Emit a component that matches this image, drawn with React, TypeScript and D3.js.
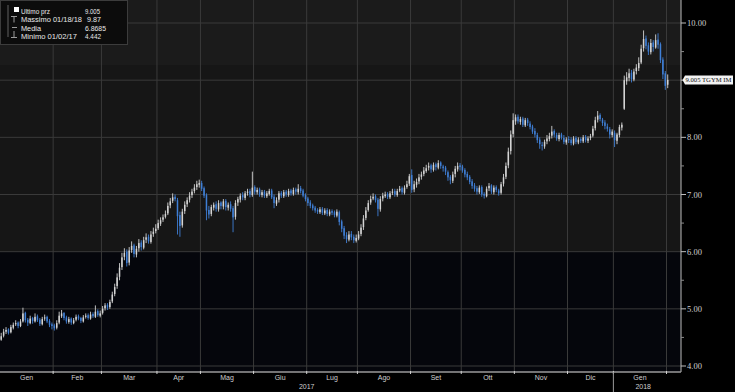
import React from "react";
import * as d3 from "d3";

const monthLabels = ["Gen", "Feb", "Mar", "Apr", "Mag", "Giu", "Lug", "Ago", "Set", "Ott", "Nov", "Dic", "Gen"];
const monthDays = [22, 20, 23, 18, 22, 22, 21, 22, 21, 22, 22, 19, 22];
const yearLabels = ["2017", "2018"];
const yTicks = [4, 5, 6, 7, 8, 9, 10];

const opens = [
  4.46, 4.53, 4.60, 4.64, 4.59, 4.67, 4.73, 4.76, 4.70, 4.78, 4.93, 4.81, 4.75, 4.84, 4.78, 4.87, 4.81, 4.73, 4.83, 4.86, 4.79, 4.73,
  4.71, 4.67, 4.76, 4.87, 4.93, 4.85, 4.77, 4.83, 4.75, 4.81, 4.87, 4.84, 4.78, 4.86, 4.89, 4.83, 4.91, 4.86, 4.96, 4.88,
  4.93, 5.01, 5.07, 5.03, 5.13, 5.26, 5.40, 5.56, 5.73, 5.91, 6.00, 5.81, 6.03, 6.11, 5.95, 6.06, 6.16, 6.07, 6.21, 6.26, 6.17, 6.31, 6.36,
  6.41, 6.49, 6.56, 6.61, 6.67, 6.81, 6.89, 6.96, 6.90, 6.64, 6.46, 6.71, 6.83, 6.91, 6.99, 7.06, 7.13, 7.17,
  7.20, 7.11, 6.99, 6.73, 6.66, 6.77, 6.83, 6.74, 6.86, 6.79, 6.89, 6.77, 6.83, 6.76, 6.61, 6.86, 6.91, 6.99, 6.94, 7.03, 7.06, 6.99,
  7.13, 7.04, 7.09, 6.99, 7.05, 6.97, 7.01, 7.07, 6.96, 6.84, 6.91, 7.03, 6.97, 7.05, 6.99, 7.07, 7.01, 7.09, 7.04, 7.11, 7.07, 6.99,
  6.93, 6.86, 6.81, 6.77, 6.73, 6.69, 6.75, 6.67, 6.73, 6.65, 6.71, 6.69, 6.63, 6.69, 6.53, 6.41, 6.29, 6.21, 6.31, 6.26, 6.19,
  6.23, 6.31, 6.43, 6.59, 6.73, 6.86, 6.93, 6.97, 6.91, 6.74, 6.93, 6.97, 7.01, 6.95, 7.03, 7.06, 6.99, 7.07, 7.11, 7.03, 7.13, 7.19,
  7.34, 7.09, 7.17, 7.23, 7.31, 7.36, 7.41, 7.47, 7.51, 7.43, 7.53, 7.47, 7.56, 7.49, 7.47, 7.39, 7.31, 7.24, 7.36, 7.44, 7.51,
  7.49, 7.43, 7.36, 7.31, 7.23, 7.16, 7.11, 7.04, 7.13, 7.01, 6.97, 7.11, 7.16, 7.04, 7.13, 7.07, 7.03, 7.19, 7.31, 7.51, 7.76, 8.06,
  8.28, 8.36, 8.27, 8.33, 8.21, 8.31, 8.24, 8.19, 8.11, 8.04, 7.96, 7.87, 7.84, 7.93, 7.97, 8.03, 8.11, 8.04, 7.97, 8.05, 7.99, 7.91,
  7.97, 7.96, 7.89, 7.99, 7.91, 7.97, 7.93, 8.01, 7.94, 7.99, 8.03, 8.16, 8.31, 8.39, 8.31, 8.26, 8.19, 8.14, 8.04,
  8.08, 7.94, 8.04, 8.17, 8.50, 8.98, 9.04, 9.13, 9.01, 9.16, 9.21, 9.31, 9.56, 9.73, 9.61, 9.49, 9.66, 9.57, 9.71, 9.63, 9.36, 9.12,
  8.92,
];
const highs = [
  4.58, 4.65, 4.68, 4.66, 4.72, 4.76, 4.80, 4.78, 4.82, 5.02, 4.95, 4.84, 4.88, 4.86, 4.92, 4.90, 4.84, 4.86, 4.90, 4.88, 4.82, 4.76,
  4.74, 4.80, 4.95, 4.98, 4.94, 4.88, 4.86, 4.85, 4.84, 4.90, 4.90, 4.86, 4.89, 4.92, 4.92, 4.95, 4.94, 5.06, 4.99, 4.97,
  5.05, 5.10, 5.10, 5.16, 5.30, 5.44, 5.62, 5.80, 5.98, 6.06, 6.04, 6.08, 6.18, 6.14, 6.10, 6.22, 6.20, 6.26, 6.32, 6.30, 6.36, 6.42, 6.48,
  6.56, 6.60, 6.65, 6.72, 6.86, 6.94, 7.02, 7.00, 6.94, 6.70, 6.75, 6.88, 6.95, 7.04, 7.10, 7.18, 7.24, 7.26,
  7.24, 7.14, 7.02, 6.80, 6.82, 6.86, 6.88, 6.90, 6.88, 6.92, 6.92, 6.86, 6.88, 6.80, 6.90, 6.96, 7.02, 7.04, 7.06, 7.10, 7.10, 7.40,
  7.16, 7.12, 7.12, 7.08, 7.08, 7.06, 7.10, 7.10, 7.00, 6.95, 7.06, 7.06, 7.08, 7.08, 7.10, 7.10, 7.12, 7.12, 7.18, 7.15, 7.10, 7.02,
  6.96, 6.90, 6.84, 6.80, 6.76, 6.78, 6.78, 6.76, 6.76, 6.74, 6.74, 6.72, 6.74, 6.72, 6.56, 6.45, 6.34, 6.36, 6.36, 6.30, 6.30,
  6.36, 6.48, 6.64, 6.78, 6.90, 6.98, 7.02, 7.00, 6.94, 6.97, 7.03, 7.05, 7.04, 7.06, 7.10, 7.10, 7.10, 7.15, 7.14, 7.16, 7.24, 7.36,
  7.44, 7.24, 7.28, 7.36, 7.40, 7.48, 7.52, 7.56, 7.54, 7.56, 7.56, 7.60, 7.58, 7.52, 7.50, 7.42, 7.34, 7.40, 7.50, 7.56, 7.55,
  7.52, 7.46, 7.40, 7.34, 7.27, 7.20, 7.15, 7.16, 7.16, 7.04, 7.14, 7.20, 7.18, 7.16, 7.16, 7.10, 7.22, 7.36, 7.56, 7.82, 8.12, 8.42,
  8.40, 8.40, 8.36, 8.36, 8.34, 8.34, 8.28, 8.22, 8.16, 8.08, 8.00, 7.92, 7.96, 8.04, 8.08, 8.20, 8.14, 8.08, 8.08, 8.08, 8.04, 8.00,
  8.02, 8.00, 8.02, 8.02, 8.00, 8.00, 8.04, 8.04, 8.02, 8.06, 8.20, 8.36, 8.46, 8.42, 8.34, 8.30, 8.24, 8.18, 8.14,
  8.12, 8.08, 8.22, 8.26, 9.08, 9.14, 9.20, 9.18, 9.20, 9.28, 9.40, 9.62, 9.87, 9.78, 9.66, 9.72, 9.70, 9.80, 9.82, 9.66, 9.40, 9.16,
  9.10,
];
const lows = [
  4.442, 4.50, 4.56, 4.55, 4.57, 4.64, 4.70, 4.66, 4.68, 4.76, 4.76, 4.70, 4.73, 4.74, 4.76, 4.77, 4.70, 4.71, 4.79, 4.75, 4.68, 4.64,
  4.62, 4.64, 4.73, 4.84, 4.80, 4.74, 4.74, 4.72, 4.73, 4.78, 4.80, 4.75, 4.76, 4.83, 4.81, 4.81, 4.84, 4.84, 4.86, 4.85,
  4.90, 4.97, 4.98, 5.00, 5.10, 5.22, 5.35, 5.50, 5.68, 5.85, 5.74, 5.76, 5.98, 5.90, 5.90, 6.00, 6.02, 6.04, 6.15, 6.14, 6.14, 6.26, 6.32,
  6.38, 6.45, 6.52, 6.58, 6.64, 6.76, 6.85, 6.88, 6.30, 6.26, 6.42, 6.66, 6.78, 6.86, 6.94, 7.02, 7.08, 7.12,
  7.06, 6.94, 6.55, 6.58, 6.62, 6.72, 6.70, 6.70, 6.74, 6.74, 6.72, 6.72, 6.70, 6.34, 6.56, 6.80, 6.86, 6.90, 6.90, 6.98, 6.95, 6.96,
  7.00, 7.00, 6.96, 6.95, 6.94, 6.94, 6.98, 6.92, 6.76, 6.80, 6.86, 6.94, 6.94, 6.96, 6.96, 6.98, 6.98, 7.00, 7.00, 7.02, 6.95, 6.88,
  6.80, 6.76, 6.72, 6.68, 6.66, 6.66, 6.64, 6.64, 6.62, 6.62, 6.64, 6.60, 6.60, 6.46, 6.34, 6.22, 6.15, 6.18, 6.20, 6.15, 6.16,
  6.20, 6.27, 6.38, 6.55, 6.70, 6.82, 6.90, 6.86, 6.62, 6.70, 6.88, 6.94, 6.92, 6.92, 6.99, 6.96, 6.96, 7.04, 7.00, 7.00, 7.10, 7.15,
  7.03, 7.04, 7.12, 7.18, 7.26, 7.32, 7.38, 7.42, 7.38, 7.40, 7.42, 7.44, 7.45, 7.40, 7.34, 7.24, 7.18, 7.20, 7.30, 7.40, 7.42,
  7.38, 7.30, 7.25, 7.18, 7.10, 7.05, 7.00, 7.01, 6.96, 6.93, 6.95, 7.06, 7.01, 7.00, 7.04, 6.98, 7.00, 7.14, 7.27, 7.46, 7.70, 8.00,
  8.22, 8.24, 8.22, 8.18, 8.18, 8.20, 8.14, 8.06, 8.00, 7.90, 7.80, 7.77, 7.80, 7.88, 7.93, 7.98, 8.00, 7.94, 7.93, 7.96, 7.88, 7.87,
  7.90, 7.86, 7.86, 7.88, 7.88, 7.90, 7.90, 7.91, 7.90, 7.95, 8.00, 8.12, 8.26, 8.28, 8.20, 8.14, 8.10, 7.98, 8.00,
  7.83, 7.88, 8.00, 8.12, 8.48, 8.92, 8.98, 8.96, 8.98, 9.10, 9.16, 9.28, 9.50, 9.54, 9.44, 9.45, 9.50, 9.55, 9.55, 9.30, 9.02, 8.83,
  8.86,
];
const closes = [
  4.52, 4.60, 4.63, 4.58, 4.68, 4.72, 4.75, 4.70, 4.78, 4.92, 4.80, 4.76, 4.83, 4.79, 4.86, 4.80, 4.74, 4.82, 4.85, 4.78, 4.72, 4.70,
  4.66, 4.75, 4.88, 4.92, 4.84, 4.78, 4.82, 4.76, 4.80, 4.86, 4.83, 4.79, 4.85, 4.88, 4.84, 4.90, 4.87, 4.95, 4.89, 4.92,
  5.00, 5.06, 5.02, 5.12, 5.25, 5.38, 5.55, 5.72, 5.90, 5.98, 5.80, 6.02, 6.10, 5.96, 6.05, 6.15, 6.08, 6.20, 6.25, 6.18, 6.30, 6.35, 6.40,
  6.50, 6.55, 6.60, 6.66, 6.80, 6.88, 6.95, 6.92, 6.62, 6.45, 6.70, 6.82, 6.90, 6.98, 7.05, 7.12, 7.18, 7.20,
  7.10, 6.98, 6.72, 6.65, 6.78, 6.82, 6.75, 6.85, 6.80, 6.88, 6.78, 6.82, 6.75, 6.60, 6.85, 6.92, 6.98, 6.95, 7.02, 7.05, 7.00, 7.12,
  7.05, 7.08, 7.00, 7.04, 6.98, 7.02, 7.06, 6.95, 6.85, 6.90, 7.02, 6.98, 7.04, 7.00, 7.06, 7.02, 7.08, 7.05, 7.10, 7.06, 6.98, 6.92,
  6.85, 6.80, 6.76, 6.72, 6.70, 6.74, 6.68, 6.72, 6.66, 6.70, 6.68, 6.64, 6.70, 6.52, 6.40, 6.28, 6.22, 6.30, 6.25, 6.20, 6.24,
  6.30, 6.42, 6.58, 6.72, 6.85, 6.92, 6.96, 6.90, 6.75, 6.92, 6.98, 7.00, 6.96, 7.02, 7.05, 7.00, 7.06, 7.10, 7.04, 7.12, 7.18, 7.32,
  7.08, 7.18, 7.22, 7.30, 7.35, 7.42, 7.46, 7.50, 7.44, 7.52, 7.48, 7.55, 7.50, 7.46, 7.40, 7.30, 7.25, 7.35, 7.45, 7.50, 7.48,
  7.42, 7.35, 7.30, 7.22, 7.15, 7.10, 7.05, 7.12, 7.00, 6.98, 7.10, 7.15, 7.05, 7.12, 7.08, 7.02, 7.18, 7.30, 7.50, 7.75, 8.05, 8.30,
  8.35, 8.28, 8.32, 8.22, 8.30, 8.25, 8.18, 8.10, 8.05, 7.95, 7.88, 7.85, 7.92, 7.98, 8.02, 8.10, 8.05, 7.98, 8.04, 8.00, 7.92, 7.96,
  7.95, 7.90, 7.98, 7.92, 7.96, 7.94, 8.00, 7.95, 7.98, 8.02, 8.15, 8.30, 8.38, 8.32, 8.25, 8.20, 8.15, 8.05, 8.10,
  7.95, 8.05, 8.18, 8.22, 9.00, 9.05, 9.12, 9.02, 9.15, 9.22, 9.30, 9.55, 9.72, 9.60, 9.50, 9.65, 9.58, 9.70, 9.62, 9.35, 9.10, 8.90,
  9.005,
];

const legendLabels = ["Ultimo prz", "Massimo 01/18/18", "Media", "Minimo 01/02/17"];
const legendValues = ["9.005", "9.87", "6.8685", "4.442"];
const lastLabel = "9.005 TGYM IM";

const W = 735;
const H = 392;
const plotRight = 681;
const plotBottom = 372;

export default function App() {
  const x = d3.scaleLinear().domain([0, 282]).range([0, plotRight]);
  const y = d3.scaleLinear().domain([4, 10]).range([366, 23]);
  const n = closes.length;
  const step = x(1) - x(0);
  const bodyW = step * 0.62;

  const bounds: number[] = [];
  let acc = 0;
  monthDays.forEach((d) => {
    acc += d;
    bounds.push(acc);
  });
  const starts = [0, ...bounds.slice(0, -1)];

  const minorTicks = d3.range(4, 10.01, 0.5).filter((v) => v % 1 !== 0);
  const up = "#d4d4d4";
  const down = "#3f7fd6";
  const sans = "'Liberation Sans', Arial, sans-serif";
  const serif = "'Liberation Serif', 'DejaVu Serif', serif";
  const rowY = [13.5, 22, 31, 39];
  const labelLen = [29, 61, 20, 56];
  const valueX = [85, 87, 85, 85];
  const valueLen = [15, 14, 21, 16];
  const ly = y(closes[n - 1]);
  // tick labels hidden behind the last-price flag
  const shownTicks = yTicks.filter((t) => Math.abs(y(t) - ly) > 8);

  return (
    <div style={{ position: "fixed", left: 0, top: 0, width: W, height: H, background: "#000" }}>
      <style>{`body{margin:0;background:#000}`}</style>
      <svg width={W} height={H} style={{ display: "block" }}>
        <rect x={0} y={0} width={W} height={H} fill="#000" />
        {/* background bands */}
        <rect x={0} y={0} width={plotRight} height={y(9.25)} fill="#1b1b1b" />
        <rect x={0} y={y(9.25)} width={plotRight} height={y(6) - y(9.25)} fill="#161616" />
        <rect x={0} y={y(6)} width={plotRight} height={plotBottom - y(6)} fill="#05060c" />
        {/* horizontal grid */}
        {yTicks.map((t) => (
          <line key={"hg" + t} x1={0} x2={plotRight} y1={y(t)} y2={y(t)} stroke="#3a3a3a" strokeWidth={1} />
        ))}
        {/* vertical grid */}
        {bounds.map((b, i) => (
          <line key={"vg" + i} x1={x(b)} x2={x(b)} y1={0} y2={plotBottom} stroke="#3a3a3a" strokeWidth={1} />
        ))}
        {/* candles */}
        {closes.map((c, i) => {
          const o = opens[i];
          const isUp = c >= o;
          const col = isUp ? up : down;
          const cx = x(i + 0.5);
          const top = y(Math.max(o, c));
          const bot = y(Math.min(o, c));
          return (
            <g key={"c" + i}>
              <line x1={cx} x2={cx} y1={y(highs[i])} y2={y(lows[i])} stroke={col} strokeWidth={0.9} />
              <rect x={cx - bodyW / 2} y={top} width={bodyW} height={Math.max(0.8, bot - top)} fill={col} />
            </g>
          );
        })}
        {/* legend */}
        <rect x={0.5} y={0.5} width={127} height={44} fill="#0c0c0c" stroke="#3c3c3c" strokeWidth={1} />
        <line x1={8} x2={8} y1={5} y2={37} stroke="#777" strokeWidth={0.8} />
        <rect x={14} y={7} width={5} height={5} fill="#fff" />
        <path d="M11 16.5 h6 M14 16.5 v6" stroke="#aaa" strokeWidth={0.9} fill="none" />
        <path d="M12 27.5 h5" stroke="#aaa" strokeWidth={0.9} fill="none" />
        <path d="M14 31 v6 M11 37.5 h6" stroke="#aaa" strokeWidth={0.9} fill="none" />
        {legendLabels.map((lab, i) => (
          <g key={"lg" + i} fontFamily={sans} fontSize={7.5} fill="#e8e8e8">
            <text x={21} y={rowY[i]} textLength={labelLen[i]} lengthAdjust="spacingAndGlyphs">{lab}</text>
            <text x={valueX[i]} y={rowY[i]} textLength={valueLen[i]} lengthAdjust="spacingAndGlyphs">{legendValues[i]}</text>
          </g>
        ))}
        {/* right axis */}
        <line x1={plotRight} x2={plotRight} y1={0} y2={plotBottom} stroke="#bdbdbd" strokeWidth={1} />
        {yTicks.map((t) => (
          <line key={"ytl" + t} x1={plotRight} x2={plotRight + 5} y1={y(t)} y2={y(t)} stroke="#bdbdbd" strokeWidth={1} />
        ))}
        {shownTicks.map((t) => (
          <text key={"ytt" + t} x={plotRight + 6} y={y(t) + 3} fontFamily={serif} fontSize={8.5} fill="#cfcfcf">
            {d3.format(".2f")(t)}
          </text>
        ))}
        {minorTicks.map((t) => (
          <line key={"ym" + t} x1={plotRight} x2={plotRight + 3} y1={y(t)} y2={y(t)} stroke="#8a8a8a" strokeWidth={1} />
        ))}
        {/* last price label */}
        <path
          d={`M${plotRight + 1.5} ${ly} L${plotRight + 4} ${ly - 4.5} H${W - 2} V${ly + 4.5} H${plotRight + 4} Z`}
          fill="#f2f2f2"
        />
        <text x={plotRight + 4.5} y={ly + 2.6} fontFamily={serif} fontSize={6.8} fill="#111" textLength={46} lengthAdjust="spacingAndGlyphs">
          {lastLabel}
        </text>
        {/* bottom axis */}
        <line x1={0} x2={plotRight} y1={plotBottom} y2={plotBottom} stroke="#9a9a9a" strokeWidth={1.5} />
        {bounds.map((b, i) => (
          <line key={"bt" + i} x1={x(b)} x2={x(b)} y1={plotBottom - 1} y2={plotBottom + 2} stroke="#cfcfcf" strokeWidth={1} />
        ))}
        <line x1={x(bounds[11])} x2={x(bounds[11])} y1={plotBottom} y2={H} stroke="#9a9a9a" strokeWidth={1} />
        {monthLabels.map((m, i) => (
          <text
            key={"ml" + i}
            x={(x(starts[i]) + x(bounds[i])) / 2}
            y={380}
            textAnchor="middle"
            fontFamily={sans}
            fontSize={7}
            fill="#cfcfcf"
          >
            {m}
          </text>
        ))}
        <text x={x(bounds[11]) / 2} y={388.5} textAnchor="middle" fontFamily={sans} fontSize={7} fill="#cfcfcf">
          {yearLabels[0]}
        </text>
        <text x={(x(bounds[11]) + plotRight) / 2 - 4} y={388.5} textAnchor="middle" fontFamily={sans} fontSize={7} fill="#cfcfcf">
          {yearLabels[1]}
        </text>
      </svg>
    </div>
  );
}
